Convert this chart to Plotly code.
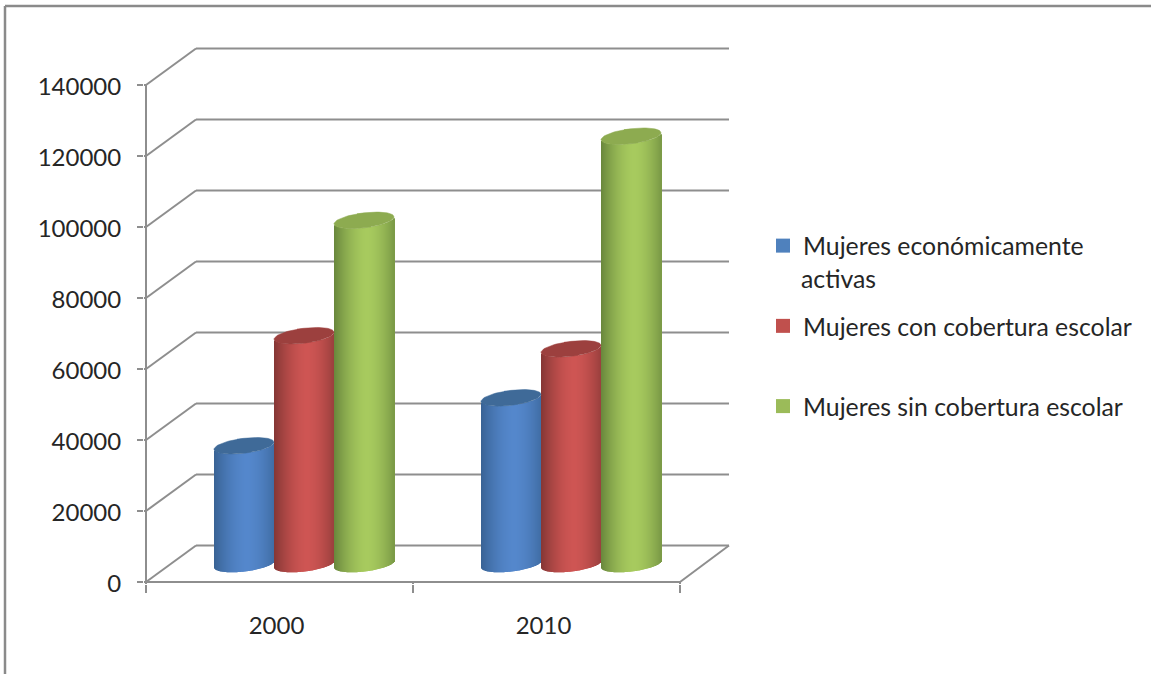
import math
import plotly.graph_objects as go

categories = ["2000", "2010"]
series_names = ["Mujeres económicamente", "Mujeres con cobertura escolar", "Mujeres sin cobertura escolar"]
name_continuation = "activas"
economicamente_activas = [33300, 46800]
con_cobertura = [64300, 60600]
sin_cobertura = [96800, 120500]
y_ticks = [0, 20000, 40000, 60000, 80000, 100000, 120000, 140000]

series_values = [economicamente_activas, con_cobertura, sin_cobertura]
swatch = ["#4f81bd", "#c0504d", "#9bbb59"]
centre_col = [(84, 135, 204), (206, 85, 83), (167, 202, 94)]
edge_col = [(56, 98, 148), (132, 54, 52), (104, 134, 60)]
top_col = ["#3f6a98", "#9c403e", "#8dab50"]
GRAY = "#8e8e8e"
TXT = "#262626"
FONT = "Lato"

# geometry (pixels <-> axis units)
KY = 140000 / 497
KX = 2 / 534
DX, DY = 50, 36.5
BAR_DX, BAR_DY = 24.5, 18
BAR_W = 60
EL_B, EL_T = 7.5, 3.5
P_L, P_R, P_T, P_B = 144, 731, 40, 584
xr = [-2 * KX, (731 - 146) * KX]
yr = [-2 * KY, (582 - 40) * KY]
W, H = 1151, 674

def blend(a, b, t):
    return "rgb(%d,%d,%d)" % tuple(round(a[k] + (b[k] - a[k]) * t) for k in range(3))

fig = go.Figure()
cat_x = [0.5, 1.5]
floor = BAR_DY * KY

# legend carriers (hidden under the cylinder caps)
for s, name in enumerate(series_names):
    fig.add_trace(go.Scatter(
        x=[c + (BAR_DX + (s - 1) * BAR_W) * KX for c in cat_x],
        y=[v + floor for v in series_values[s]],
        mode="markers", name=name, legendgroup=name,
        marker=dict(symbol="square", size=14, color=swatch[s]),
        hoverinfo="skip", cliponaxis=False))

# cylinder bodies as 1px gradient strips
for s in range(3):
    vals = series_values[s]
    for i in range(BAR_W):
        u = (i + 0.5 - BAR_W / 2) / (BAR_W / 2)
        shade = min(1, abs(u - 0.1) / 1.1) ** 1.7
        low = (EL_T * u - EL_B * math.sqrt(max(0, 1 - u * u))) * KY
        fig.add_trace(go.Bar(
            x=cat_x, y=vals, base=[floor + low] * 2,
            offset=(BAR_DX + (s - 1) * BAR_W - BAR_W / 2 + i) * KX, width=1.15 * KX,
            marker=dict(color=blend(centre_col[s], edge_col[s], shade), line=dict(width=0)),
            showlegend=False, hoverinfo="skip"))

# cylinder caps
for s in range(3):
    for c, v in zip(cat_x, series_values[s]):
        cx = c + (BAR_DX + (s - 1) * BAR_W) * KX
        ts = [2 * math.pi * k / 72 for k in range(73)]
        fig.add_trace(go.Scatter(
            x=[cx + BAR_W / 2 * math.cos(t) * KX for t in ts],
            y=[v + floor + (EL_T * math.cos(t) + EL_B * math.sin(t)) * KY for t in ts],
            mode="lines", fill="toself", fillcolor=top_col[s], line=dict(width=0.5, color=top_col[s]),
            showlegend=False, hoverinfo="skip"))

# 3D walls, below the traces
shapes = []
def px_line(x0, y0, x1, y1):
    return dict(type="line", xref="x", yref="y", layer="below", x0=x0, y0=y0, x1=x1, y1=y1,
                line=dict(color=GRAY, width=2))
for t in y_ticks:
    shapes.append(px_line(xr[0], t, 0, t))
    shapes.append(px_line(0, t, DX * KX, t + DY * KY))
    shapes.append(px_line(DX * KX, t + DY * KY, xr[1] - 2 * KX, t + DY * KY))
shapes.append(px_line(0, 0, 0, y_ticks[-1]))
shapes.append(px_line(0, 0, 2, 0))
shapes.append(px_line(2, 0, xr[1] - 2 * KX, DY * KY))
for x in [0, 1, 2]:
    shapes.append(px_line(x, 0, x, yr[0]))

# picture frame (top and left only)
fx = lambda p: (p - P_L) / (P_R - P_L)
fy = lambda p: (P_B - p) / (P_B - P_T)
for a, b, c, d in [(5, 6, W, 6), (5, 6, 5, H)]:
    shapes.append(dict(type="line", xref="paper", yref="paper", x0=fx(a), y0=fy(b), x1=fx(c), y1=fy(d),
                       line=dict(color="#8a8a8a", width=2.5)))

fig.update_layout(
    width=W, height=H, paper_bgcolor="white", plot_bgcolor="white",
    margin=dict(l=P_L, r=W - P_R, t=P_T, b=H - P_B, pad=0, autoexpand=False),
    barmode="overlay", shapes=shapes, font=dict(family=FONT, size=24, color=TXT),
    xaxis=dict(range=xr, showgrid=False, zeroline=False, showline=False,
               tickmode="array", tickvals=cat_x, ticktext=categories, ticks="",
               ticklabelstandoff=25, ticklabelshift=-3, tickfont=dict(family=FONT, size=24, color=TXT),
               minor=dict(tickmode="array", tickvals=[0, 1, 2], ticks="outside", ticklen=8,
                          tickwidth=2, tickcolor=GRAY, showgrid=False)),
    yaxis=dict(range=yr, showgrid=False, zeroline=False, showline=False,
               tickmode="array", tickvals=y_ticks, ticktext=[str(t) for t in y_ticks],
               ticks="outside", ticklen=6, tickwidth=2, tickcolor=GRAY,
               ticklabelstandoff=11, ticklabelshift=2, tickfont=dict(family=FONT, size=24, color=TXT)),
    legend=dict(x=fx(763), xanchor="left", y=fy(223), yanchor="top", traceorder="grouped",
                tracegroupgap=45, itemclick=False, itemdoubleclick=False,
                bgcolor="rgba(0,0,0,0)", font=dict(family=FONT, size=24.8, color=TXT)),
    annotations=[dict(xref="paper", yref="paper", x=fx(799), y=fy(278), xanchor="left", yanchor="middle",
                      text=name_continuation, showarrow=False, font=dict(family=FONT, size=24.8, color=TXT))],
)

fig.write_html("out.html", post_script="document.body.style.margin='0';", config={"displayModeBar": False})
